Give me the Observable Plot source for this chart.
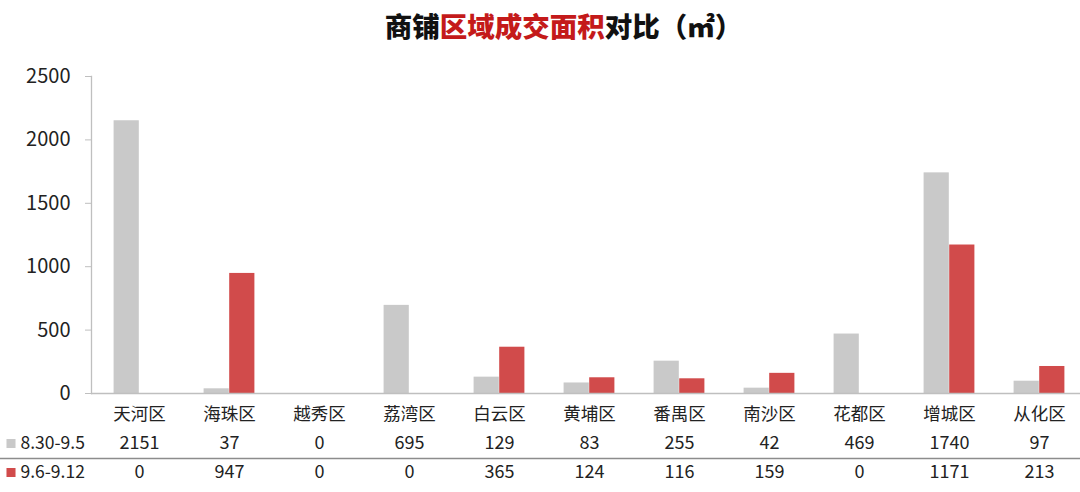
<!DOCTYPE html>
<html>
<head>
<meta charset="utf-8">
<script src="https://cdn.jsdelivr.net/npm/d3@7"></script>
<script src="https://cdn.jsdelivr.net/npm/@observablehq/plot@0.6"></script>
<style>
  html, body { margin: 0; padding: 0; background: #fff; overflow: hidden; }
  #title {
    width: 1080px; height: 50px; line-height: 50px; box-sizing: border-box;
    padding-left: 47px; text-align: center; white-space: nowrap;
    font-family: "Noto Sans CJK SC", sans-serif; font-weight: 900; font-size: 27.5px; color: #111;
  }
  #title .red { color: #c41a1a; }
  #chart svg { display: block; }
</style>
</head>
<body>
<div id="title">商铺<span class="red">区域成交面积</span>对比（㎡）</div>
<div id="chart"></div>
<script>
const categories = ["天河区", "海珠区", "越秀区", "荔湾区", "白云区", "黄埔区", "番禺区", "南沙区", "花都区", "增城区", "从化区"];
const seriesNames = ["8.30-9.5", "9.6-9.12"];
const series1 = [2151, 37, 0, 695, 129, 83, 255, 42, 469, 1740, 97];
const series2 = [0, 947, 0, 0, 365, 124, 116, 159, 0, 1171, 213];
const yTicks = [0, 500, 1000, 1500, 2000, 2500];
const colors = ["#c9c9c9", "#d14b4b"];

const rows = categories.map((c, i) => ({cat: c, a: series1[i], b: series2[i]}));
const font = '"Noto Sans CJK SC", "Noto Sans", sans-serif';

const chart = Plot.plot({
  width: 1080,
  height: 442,
  marginTop: 26,
  marginBottom: 99,
  marginLeft: 91,
  marginRight: 0,
  style: {fontFamily: font, fontSize: "17px", color: "#222", background: "#fff"},
  x: {domain: categories, range: [91, 1086], padding: 0, axis: null},
  y: {domain: [0, 2500], axis: null},
  marks: [
    Plot.barY(rows, {x: "cat", y: "a", fill: colors[0], insetLeft: 19.6, insetRight: 45.2}),
    Plot.barY(rows, {x: "cat", y: "b", fill: colors[1], insetLeft: 45.2, insetRight: 19.6}),
    Plot.ruleY([0], {stroke: "#bfbfbf", strokeWidth: 1.5}),
    Plot.frame({anchor: "left", stroke: "#bfbfbf", strokeWidth: 1.3}),
    Plot.axisY({ticks: yTicks, tickSize: 6, tickPadding: 15, fontSize: 20, stroke: "#bfbfbf", fill: "#222", tickFormat: d => String(d)}),
    // category labels
    Plot.text(categories, {x: d => d, frameAnchor: "bottom", dy: 21, lineAnchor: "middle", fontSize: 17.5, fill: "#222"}),
    // table row 1
    Plot.text(rows, {x: "cat", text: d => String(d.a), frameAnchor: "bottom", dy: 50, lineAnchor: "middle", fontSize: 18, fill: "#222"}),
    // separator
    Plot.ruleY([0], {dy: 65, insetLeft: -91, stroke: "#8c8c8c", strokeWidth: 1.5}),
    // table row 2
    Plot.text(rows, {x: "cat", text: d => String(d.b), frameAnchor: "bottom", dy: 79, lineAnchor: "middle", fontSize: 18, fill: "#222"}),
    // legend swatches and labels
    Plot.dot([seriesNames[0]], {frameAnchor: "bottom-left", dx: -80.5, dy: 50, symbol: "square", r: 5.1, fill: colors[0], stroke: null}),
    Plot.dot([seriesNames[1]], {frameAnchor: "bottom-left", dx: -80.5, dy: 79, symbol: "square", r: 5.1, fill: colors[1], stroke: null}),
    Plot.text([seriesNames[0]], {text: d => d, frameAnchor: "bottom-left", dx: -71, dy: 50, textAnchor: "start", lineAnchor: "middle", fontSize: 17.5, fill: "#222"}),
    Plot.text([seriesNames[1]], {text: d => d, frameAnchor: "bottom-left", dx: -71, dy: 79, textAnchor: "start", lineAnchor: "middle", fontSize: 17.5, fill: "#222"})
  ]
});
document.getElementById("chart").appendChild(chart);
</script>
</body>
</html>
